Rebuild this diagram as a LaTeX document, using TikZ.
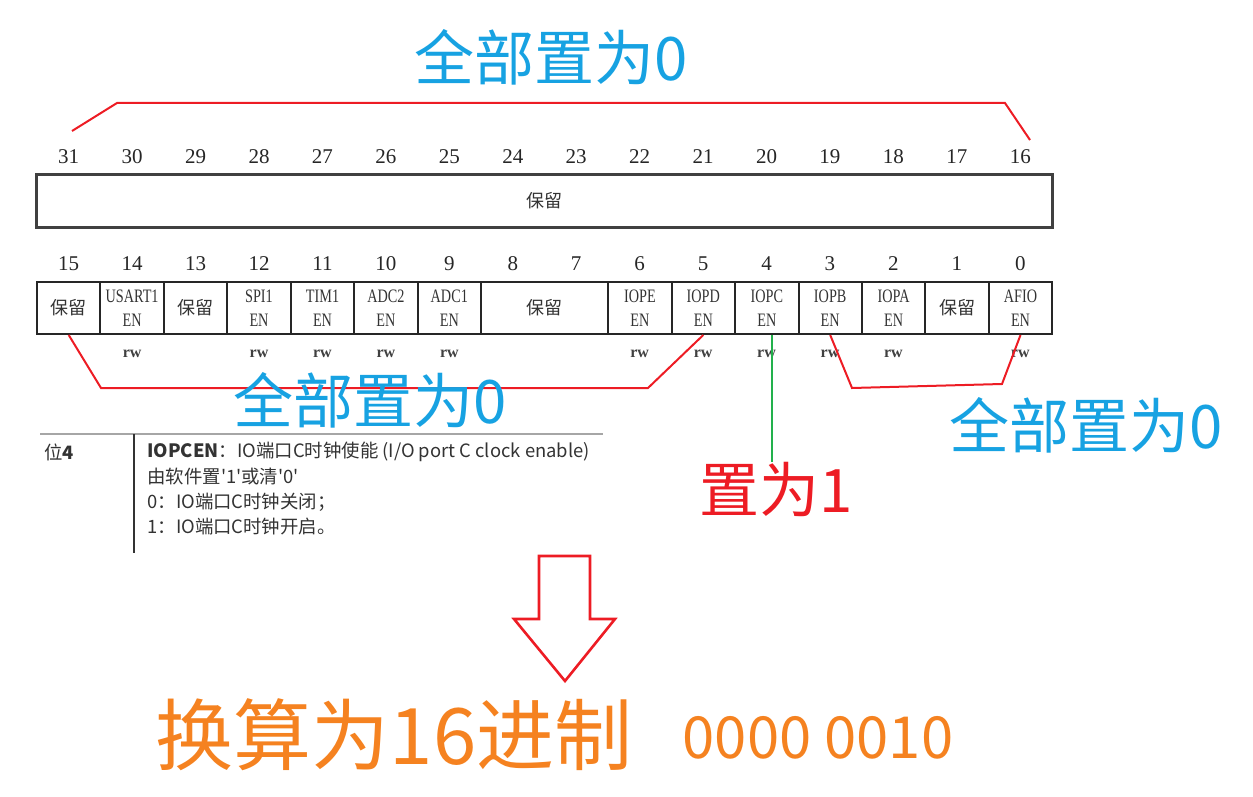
\documentclass[tikz,border=0pt]{standalone}
\usepackage{fontspec}
\setmainfont{Liberation Serif}
\newfontfamily\cjk{Noto Sans CJK SC}
\newfontfamily\regfont[FakeStretch=0.75]{Liberation Serif}
\usepackage{tikz}
\usetikzlibrary{positioning}

\definecolor{noteblue}{RGB}{23,162,226}
\definecolor{notered}{RGB}{237,28,36}
\definecolor{noteorange}{RGB}{245,130,32}
\definecolor{notegreen}{RGB}{34,177,76}

\begin{document}
\begin{tikzpicture}[x=0.5pt, y=-0.5pt,
    regcell/.style={rectangle, draw=black!85, line width=1pt, minimum width=31.7pt, minimum height=26pt, inner sep=0pt, font=\regfont\fontsize{9.5}{12}\selectfont, align=center, text=black!80},
    resvcell/.style={regcell, font=\cjk\fontsize{9}{12}\selectfont},
    bitnum/.style={font=\fontsize{10.5}{12}\selectfont, text=black!85, inner sep=0pt},
    accesslabel/.style={font=\bfseries\fontsize{8}{10}\selectfont, text=black!75, inner sep=0pt},
    bignote/.style={font=\cjk\fontsize{30}{36}\selectfont, inner sep=0pt},
    tabletext/.style={font=\cjk\fontsize{9.2}{11}\selectfont, text=black!80, anchor=west, inner sep=0pt},
    redline/.style={draw=notered, line width=1pt}
]
\useasboundingbox (0,0) rectangle (1253,797);

% Bit numbers above both rows
\foreach \b in {16,...,31}
  \node[bitnum] (n\b) at ({68.7+63.44*(31-\b)},157) {\b};
\foreach \b in {0,...,15}
  \node[bitnum] (n\b) at ({68.7+63.44*(15-\b)},264) {\b};

% Upper half of the register
\node[resvcell, minimum width=508pt, minimum height=26.5pt, line width=1.5pt, draw=black!75] (hi) at (544.5,201) {保留};

% Lower half of the register
\node[resvcell] (b15) at (68.7,308) {保留};
\node[regcell] (b14) at (132.1,308) {USART1\\EN};
\node[resvcell] (b13) at (195.6,308) {保留};
\node[regcell] (b12) at (259.0,308) {SPI1\\EN};
\node[regcell] (b11) at (322.5,308) {TIM1\\EN};
\node[regcell] (b10) at (385.9,308) {ADC2\\EN};
\node[regcell] (b9) at (449.3,308) {ADC1\\EN};
\node[resvcell, minimum width=63.4pt] (b8) at (544.5,308) {保留};
\node[regcell] (b6) at (639.9,308) {IOPE\\EN};
\node[regcell] (b5) at (703.3,308) {IOPD\\EN};
\node[regcell] (b4) at (766.8,308) {IOPC\\EN};
\node[regcell] (b3) at (830.2,308) {IOPB\\EN};
\node[regcell] (b2) at (893.6,308) {IOPA\\EN};
\node[resvcell] (b1) at (957.1,308) {保留};
\node[regcell] (b0) at (1020.5,308) {AFIO\\EN};

% Access type
\foreach \b in {14,12,11,10,9,6,5,4,3,2,0}
  \node[accesslabel] (rw\b) at ({68.7+63.44*(15-\b)},354) {rw};

% Brackets
\coordinate (tbl) at (72,131);
\coordinate (tb1) at (117,103);
\coordinate (tb2) at (1005,103);
\coordinate (tbr) at (1030,140);
\draw[redline] (tbl) -- (tb1) -- (tb2) -- (tbr);

\coordinate (lb1) at (101,388);
\coordinate (lb2) at (648,388);
\draw[redline] (b15.south) -- (lb1) -- (lb2) -- (b5.south);

\coordinate (rb1) at (852,388);
\coordinate (rb2) at (1002,384);
\draw[redline] (b3.south) -- (rb1) -- (rb2) -- (b0.south);

% Notes
\node[bignote, text=noteblue] (alltop) at (551,57) {全部置为0};
\node[bignote, text=noteblue] (allleft) at (370,400) {全部置为0};
\node[bignote, text=noteblue] (allright) at (1086,425) {全部置为0};
\node[bignote, text=notered] (set1) at (776,490) {置为1};

\coordinate (g0) at ([xshift=2.5pt]b4.south);
\draw[draw=notegreen, line width=1pt] (g0) -- (g0 |- set1.north);

% Bit description
\draw[gray!70, line width=1pt] (40,434) -- (603,434);
\draw[black!80, line width=0.9pt] (134,434) -- (134,553);
\node[tabletext] (bitpos) at (44,452) {位\textbf{4}};
\node[tabletext] (desc1) at (147,452) {\textbf{IOPCEN}：IO端口C时钟使能 (I/O port C clock enable)};
\node[tabletext] (desc2) at (147,477) {由软件置'1'或清'0'};
\node[tabletext] (desc3) at (147,502) {0：IO端口C时钟关闭；};
\node[tabletext] (desc4) at (147,527) {1：IO端口C时钟开启。};

% Down arrow and result
\draw[redline, line width=1.3pt] (539,556) -- (590,556) -- (590,619) -- (615,619) -- (565,681) -- (514,619) -- (539,619) -- cycle;
\node[bignote, text=noteorange, font=\cjk\fontsize{39}{44}\selectfont] (tohex) at (394,735) {换算为16进制};
\node[bignote, text=noteorange, font=\cjk\fontsize{29}{34}\selectfont] (hexval) at (818,738) {0000 0010};

\end{tikzpicture}
\end{document}
